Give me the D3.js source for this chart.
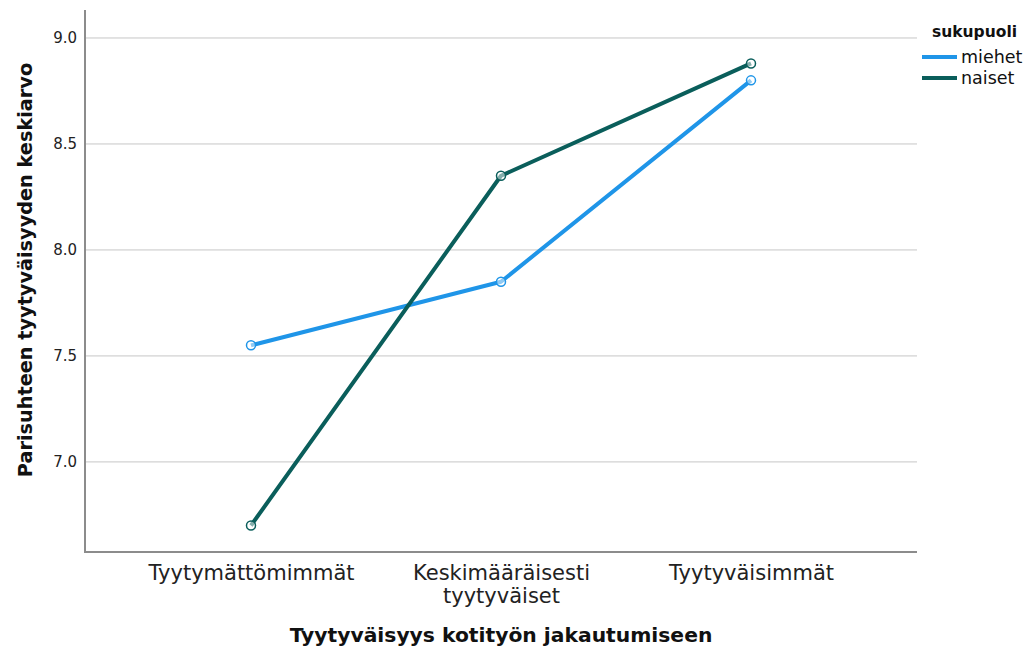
<!DOCTYPE html>
<html><head><meta charset="utf-8">
<script src="https://cdn.jsdelivr.net/npm/d3@7"></script>
<style>body{margin:0;background:#fff}svg{display:block}</style>
</head><body><svg id="c" width="1026" height="649"></svg>
<script>
const categories = ["Tyytymättömimmät", "Keskimääräisesti\ntyytyväiset", "Tyytyväisimmät"];
const miehet = [7.55, 7.85, 8.80];
const naiset = [6.70, 8.35, 8.88];
const seriesNames = ["miehet", "naiset"];
const seriesColors = ["#1f95e8", "#0a5e5b"];
const yTicks = [7.0, 7.5, 8.0, 8.5, 9.0];
const yDomain = [6.575, 9.132];

const svg = d3.select("#c");
const L = 85, R = 917, T = 10, B = 552;
const x = d3.scalePoint().domain(categories).range([L, R]).padding(0.664);
const y = d3.scaleLinear().domain(yDomain).range([B, T]);

// gridlines
svg.append("g").selectAll("line").data(yTicks).join("line")
  .attr("x1", L).attr("x2", R).attr("y1", d => y(d)).attr("y2", d => y(d))
  .attr("stroke", "#c6c6c6").attr("stroke-width", 1);

// y axis
const ya = svg.append("g").attr("transform", `translate(${L},0)`)
  .call(d3.axisLeft(y).tickValues(yTicks).tickFormat(d3.format(".1f")).tickSize(0).tickPadding(8));
ya.select(".domain").remove();
ya.selectAll("text").attr("font-family", "DejaVu Sans").attr("font-size", 15).attr("fill", "#222");
svg.append("line").attr("x1", L).attr("x2", L).attr("y1", T).attr("y2", B + 1)
  .attr("stroke", "#8c8c8c").attr("stroke-width", 2);

// x axis
const xa = svg.append("g").attr("transform", `translate(0,${B})`)
  .call(d3.axisBottom(x).tickSize(0).tickFormat(""));
xa.select(".domain").remove();
svg.append("line").attr("x1", L - 1).attr("x2", R).attr("y1", B).attr("y2", B)
  .attr("stroke", "#8c8c8c").attr("stroke-width", 2);
xa.selectAll(".tick").each(function(d) {
  const t = d3.select(this).append("text").attr("fill", "#222")
    .attr("font-family", "DejaVu Sans").attr("font-size", 21).attr("text-anchor", "middle");
  d.split("\n").forEach((s, i) => t.append("tspan").attr("x", 0).attr("y", 28 + i * 23).text(s));
});

// axis titles
svg.append("text").attr("x", x(categories[1])).attr("y", 642).attr("text-anchor", "middle")
  .attr("font-family", "DejaVu Sans").attr("font-weight", "bold").attr("font-size", 20.3)
  .attr("fill", "#111").text("Tyytyväisyys kotityön jakautumiseen");
svg.append("text").attr("transform", `translate(32,270) rotate(-90)`)
  .attr("text-anchor", "middle").attr("font-family", "DejaVu Sans").attr("font-weight", "bold")
  .attr("font-size", 19.3).attr("fill", "#111").text("Parisuhteen tyytyväisyyden keskiarvo");

// lines
const data = [miehet, naiset];
const line = d3.line().x((d, i) => x(categories[i])).y(d => y(d));
data.forEach((vals, k) => {
  svg.append("path").datum(vals).attr("d", line).attr("fill", "none")
    .attr("stroke", seriesColors[k]).attr("stroke-width", 4).attr("stroke-linejoin", "round");
});
data.forEach((vals, k) => {
  svg.append("g").selectAll("circle").data(vals).join("circle")
    .attr("cx", (d, i) => x(categories[i])).attr("cy", d => y(d)).attr("r", 4.5)
    .attr("fill", "#fff").attr("fill-opacity", 0.5)
    .attr("stroke", seriesColors[k]).attr("stroke-width", 1.5);
});

// legend
const lg = svg.append("g");
lg.append("text").attr("x", 932).attr("y", 37).attr("font-family", "DejaVu Sans")
  .attr("font-weight", "bold").attr("font-size", 15.5).attr("fill", "#111").text("sukupuoli");
seriesNames.forEach((n, i) => {
  const yy = 57 + i * 21;
  lg.append("line").attr("x1", 922).attr("x2", 957).attr("y1", yy).attr("y2", yy)
    .attr("stroke", seriesColors[i]).attr("stroke-width", 4);
  lg.append("text").attr("x", 961).attr("y", yy + 6).attr("font-family", "DejaVu Sans")
    .attr("font-size", 17.5).attr("fill", "#111").text(n);
});
</script></body></html>
